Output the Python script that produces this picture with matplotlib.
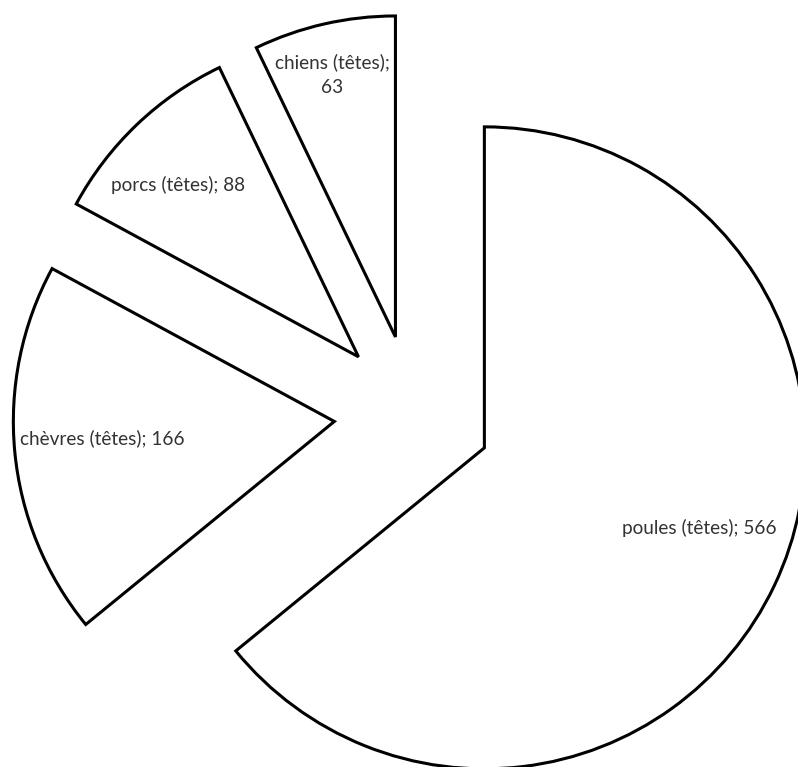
import matplotlib
matplotlib.use("Agg")
import matplotlib.pyplot as plt

categories = ["poules (têtes)", "chèvres (têtes)", "porcs (têtes)", "chiens (têtes)"]
values = [566, 166, 88, 63]

W, H = 798, 767
fig = plt.figure(figsize=(W / 100, H / 100), dpi=100)
ax = fig.add_axes([0, 0, 1, 1])

# pixel-like data space, y flipped so (0,0) is bottom left
center = (413, H - 414)
radius = 321
ax.pie(values, startangle=90, counterclock=False, explode=[79] * len(values),
       radius=radius, center=center,
       wedgeprops=dict(facecolor="white", edgecolor="black", linewidth=2.2,
                       joinstyle="miter"))

# label anchors in picture pixels (x, y from top)
label_pos = [(699, 528, "center"), (20, 438, "left"), (178, 185, "center"), (332, 75, "center")]
for cat, val, (x, y, ha) in zip(categories, values, label_pos):
    txt = f"{cat};\n{val}" if val == 63 else f"{cat}; {val}"
    ax.text(x, H - y, txt, ha=ha, va="center", fontsize=13.7, color="#333333",
            family="Lato", linespacing=1.55)

ax.set_xlim(0, W)
ax.set_ylim(0, H)
ax.set_aspect("equal")
ax.axis("off")

fig.savefig("out.png", dpi=100, facecolor="white")
